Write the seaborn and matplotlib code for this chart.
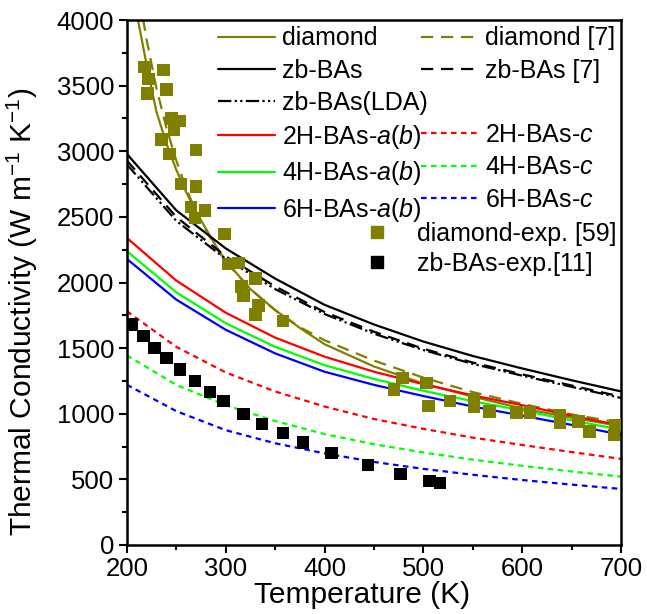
import matplotlib
matplotlib.use("Agg")
import numpy as np
import pandas as pd
import matplotlib.pyplot as plt
import seaborn as sns
from matplotlib.lines import Line2D

# calculated curves, 50 K steps
temps    = [200, 250, 300, 350, 400, 450, 500, 550, 600, 650, 700]
ba2h_ab  = [2340, 2015, 1770, 1580, 1435, 1320, 1225, 1140, 1065, 985, 910]
ba4h_ab  = [2240, 1925, 1690, 1510, 1370, 1265, 1175, 1095, 1025, 950, 878]
ba6h_ab  = [2180, 1870, 1640, 1460, 1320, 1220, 1135, 1055, 985, 915, 840]
ba2h_c   = [1781, 1510, 1315, 1170, 1055, 960, 885, 818, 762, 708, 656]
ba4h_c   = [1445, 1220, 1065, 945, 845, 768, 705, 650, 603, 560, 521]
ba6h_c   = [1221, 1020, 875, 775, 698, 633, 580, 535, 495, 460, 427]
zb       = [2980, 2550, 2260, 2030, 1830, 1680, 1550, 1440, 1345, 1255, 1170]
zb_ref7  = [2930, 2500, 2200, 1970, 1775, 1625, 1495, 1390, 1300, 1215, 1130]
zb_lda   = [2900, 2470, 2180, 1950, 1760, 1610, 1485, 1380, 1290, 1205, 1120]

# diamond curves (finer steps at low T)
dia_T     = [200, 210, 220, 230, 240, 250, 260, 270, 280, 290, 300, 325, 350, 375, 400, 450, 500, 550, 600, 650, 700]
dia       = [4550, 4050, 3660, 3300, 3060, 2860, 2690, 2540, 2410, 2280, 2165, 1950, 1790, 1654, 1530, 1360, 1230, 1130, 1040, 970, 905]
dia_ref7  = [4800, 4300, 3850, 3480, 3180, 2930, 2720, 2540, 2400, 2270, 2160, 1950, 1790, 1660, 1560, 1405, 1275, 1165, 1075, 995, 930]

# experiments
dia_exp_T = [218, 222, 221, 237, 240, 245, 254, 248, 235, 243, 270, 255, 270, 265, 279, 269, 299, 303, 313, 330, 316, 318,
             333, 330, 358, 470, 479, 503, 505, 527, 551, 551, 567, 594, 608, 638, 638, 657, 668, 694, 693]
dia_exp_k = [3640, 3550, 3440, 3620, 3470, 3250, 3230, 3160, 3090, 2980, 3010, 2750, 2730, 2575, 2550, 2490, 2370, 2140,
             2150, 2030, 1970, 1900, 1825, 1755, 1705, 1185, 1272, 1234, 1061, 1097, 1107, 1056, 1018, 1010, 1010, 990,
             930, 941, 865, 916, 840]
zb_exp_T  = [205, 217, 228, 240, 254, 269, 284, 298, 318, 337, 358, 378, 407, 444, 477, 506, 517]
zb_exp_k  = [1679, 1591, 1502, 1426, 1337, 1248, 1164, 1095, 999, 920, 852, 781, 700, 611, 542, 489, 471]

olive = "#808000"
long_dash = (5.5, 3.5)
short_dash = (2.5, 2.0)
dash_dot_dot = (6, 1.5, 1, 1.5, 1, 1.5)

sns.set_theme(style="ticks")
plt.rcParams['font.family'] = ['Liberation Sans', 'DejaVu Sans']
plt.rcParams['mathtext.fontset'] = 'custom'
plt.rcParams['mathtext.rm'] = 'Liberation Sans'
plt.rcParams['mathtext.it'] = 'Liberation Sans:italic'
for k in ['text.color', 'axes.labelcolor', 'xtick.color', 'ytick.color', 'axes.edgecolor']:
    plt.rcParams[k] = 'black'

fig = plt.figure(figsize=(6.47, 6.14), dpi=100)
ax = fig.add_axes([0.196, 0.1124, 0.764, 0.855])

series = [
    ("diamond",               dia_T, dia,      olive, None),
    ("diamond [7]",           dia_T, dia_ref7, olive, long_dash),
    ("zb-BAs",                temps, zb,       "black", None),
    ("zb-BAs [7]",            temps, zb_ref7,  "black", long_dash),
    ("zb-BAs(LDA)",           temps, zb_lda,   "black", dash_dot_dot),
    ("2H-BAs-$a$($b$)",       temps, ba2h_ab,  "#ff0000", None),
    ("2H-BAs-$c$",            temps, ba2h_c,   "#ff0000", short_dash),
    ("4H-BAs-$a$($b$)",       temps, ba4h_ab,  "#00ff00", None),
    ("4H-BAs-$c$",            temps, ba4h_c,   "#00ff00", short_dash),
    ("6H-BAs-$a$($b$)",       temps, ba6h_ab,  "#0000ff", None),
    ("6H-BAs-$c$",            temps, ba6h_c,   "#0000ff", short_dash),
]

handles = {}
for name, x, y, col, dash in series:
    sns.lineplot(x=x, y=y, color=col, lw=1.6, ax=ax, label=name, legend=False)
    line = ax.lines[-1]
    if dash is not None:
        line.set_dashes(dash)
    handles[name] = line

sns.scatterplot(x=dia_exp_T, y=dia_exp_k, marker="s", s=80, color=olive, edgecolor="none", ax=ax, zorder=3, legend=False)
sns.scatterplot(x=zb_exp_T, y=zb_exp_k, marker="s", s=80, color="black", edgecolor="none", ax=ax, zorder=3, legend=False)

ax.set_xlim(200, 700)
ax.set_ylim(0, 4000)
ax.set_xticks(range(200, 701, 100))
ax.set_xticks(range(250, 700, 100), minor=True)
ax.set_yticks(range(0, 4001, 500))
ax.set_yticks(range(250, 4000, 500), minor=True)
ax.tick_params(which="major", direction="out", length=6, width=1.5, labelsize=18.5, pad=3)
ax.tick_params(which="minor", direction="out", length=3.5, width=1.5)
for s in ax.spines.values():
    s.set_linewidth(1.8)
    s.set_visible(True)
ax.set_xlabel("Temperature (K)", fontsize=21.5)
ax.set_ylabel("Thermal Conductivity (W m$^{-1}$ K$^{-1}$)", fontsize=21.5)
ax.yaxis.set_label_coords(-0.175, 0.445)
ax.xaxis.set_label_coords(0.476, -0.068)

blank = Line2D([], [], linestyle="none")
left_col = ["diamond", "zb-BAs", "zb-BAs(LDA)", "2H-BAs-$a$($b$)", "4H-BAs-$a$($b$)", "6H-BAs-$a$($b$)"]
right_col = ["diamond [7]", "zb-BAs [7]", None, "2H-BAs-$c$", "4H-BAs-$c$", "6H-BAs-$c$"]
h = [handles[n] for n in left_col] + [handles[n] if n else blank for n in right_col]
l = left_col + [n if n else "" for n in right_col]
leg1 = ax.legend(h, l, ncol=2, loc="upper right", bbox_to_anchor=(1.0, 1.0), frameon=False,
                 fontsize=18, handlelength=2.3, handletextpad=0.25, columnspacing=-0.26,
                 labelspacing=0.33, borderpad=0.25, borderaxespad=0)
ax.add_artist(leg1)

exp_h = [Line2D([], [], marker="s", color=olive, linestyle="none", markersize=9),
         Line2D([], [], marker="s", color="black", linestyle="none", markersize=9)]
ax.legend(exp_h, ["diamond-exp. [59]", "zb-BAs-exp.[11]"], loc="upper right", bbox_to_anchor=(1.0, 0.625),
          frameon=False, fontsize=18, handlelength=2.0, handletextpad=0.6, labelspacing=0.25,
          borderpad=0.2, borderaxespad=0)

fig.savefig("out.png", dpi=100)
